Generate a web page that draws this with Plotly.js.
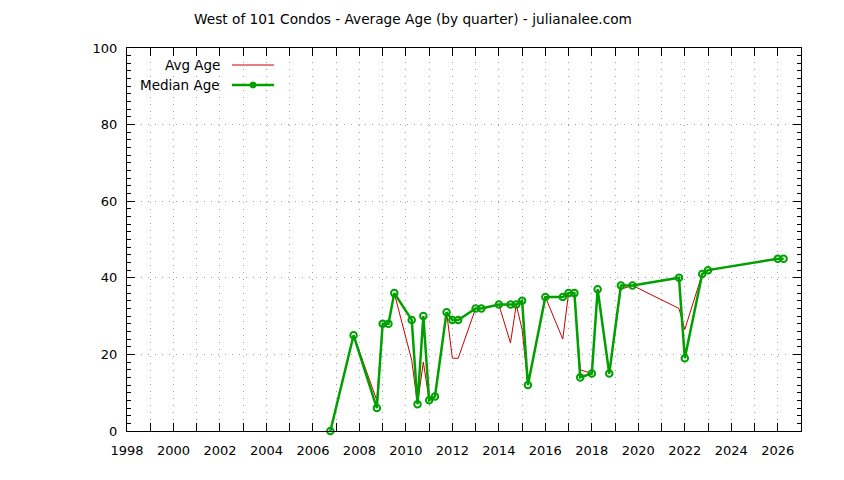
<!DOCTYPE html>
<html>
<head>
<meta charset="utf-8">
<script src="https://cdn.plot.ly/plotly-3.0.1.min.js"></script>
<style>
  html, body { margin: 0; padding: 0; background: #fff; }
  #plot { width: 844px; height: 480px; }
</style>
</head>
<body>
<div id="plot"></div>
<script>
// quarter start, as decimal year
const quarters = [2006.75, 2007.75, 2008.75, 2009.0, 2009.25, 2009.5, 2010.25, 2010.5, 2010.75,
    2011.0, 2011.25, 2011.75, 2012.0, 2012.25, 2013.0, 2013.25, 2014.0, 2014.5, 2014.75,
    2015.0, 2015.25, 2016.0, 2016.75, 2017.0, 2017.25, 2017.5, 2018.0, 2018.25, 2018.75,
    2019.25, 2019.75, 2021.75, 2022.0, 2022.75, 2023.0, 2026.0, 2026.25];

const avgAge = [0, 25, 8, 28, 28, 36, 18.5, 7, 18, 8, 9, 31, 19, 19, 32, 32, 33, 23, 33,
    26.5, 12, 35, 24, 36, 36, 16, 15, 37, 15, 37, 38, 32, 26.5, 41, 42, 45, 45];

const medianAge = [0, 25, 6, 28, 28, 36, 29, 7, 30, 8, 9, 31, 29, 29, 32, 32, 33, 33, 33,
    34, 12, 35, 35, 36, 36, 14, 15, 37, 15, 38, 38, 40, 19, 41, 42, 45, 45];

const yearTicks = [];
for (let yr = 1998; yr <= 2026; yr++) yearTicks.push(yr);
const yearLabels = yearTicks.map((yr) => (yr % 2 === 0 ? String(yr) : ''));

const FONT = 'DejaVu Sans, Verdana, sans-serif';
const RED = '#cc0000';
const GREEN = '#00a000';
const GRID = '#a0a0a0';

const avgTrace = {
    x: quarters,
    y: avgAge,
    mode: 'lines',
    type: 'scatter',
    name: 'Avg Age',
    line: { color: RED, width: 1 },
    cliponaxis: false
};

const medianTrace = {
    x: quarters,
    y: medianAge,
    mode: 'lines+markers',
    type: 'scatter',
    name: 'Median Age',
    line: { color: GREEN, width: 2.5 },
    marker: { symbol: 'circle-open', size: 6.5, color: GREEN, line: { width: 2, color: GREEN } },
    cliponaxis: false
};

// gnuplot style key: text on the left, sample on the right
const keyY1 = 1 - (65 - 48) / 383;
const keyY2 = 1 - (85 - 48) / 383;

const layout = {
    width: 844,
    height: 480,
    margin: { l: 127, r: 43, t: 48, b: 49 },
    paper_bgcolor: '#fff',
    plot_bgcolor: '#fff',
    showlegend: false,
    font: { family: FONT, size: 13, color: '#000' },
    title: {
        text: 'West of 101 Condos - Average Age (by quarter) - julianalee.com',
        font: { family: FONT, size: 13.7, color: '#000' },
        x: 413 / 844,
        xanchor: 'center',
        xref: 'container',
        y: 1 - 19 / 480,
        yanchor: 'middle',
        yref: 'container'
    },
    xaxis: {
        range: [1998, 2027],
        tickmode: 'array',
        tickvals: yearTicks,
        ticktext: yearLabels,
        ticks: 'inside',
        ticklen: 8,
        tickcolor: '#000',
        ticklabelstandoff: 7,
        showline: true,
        linecolor: '#000',
        linewidth: 1,
        mirror: 'allticks',
        showgrid: true,
        gridcolor: GRID,
        griddash: '1px,6px',
        gridwidth: 1,
        zeroline: false,
        tickfont: { family: FONT, size: 13 }
    },
    yaxis: {
        range: [0, 100],
        dtick: 20,
        ticks: 'inside',
        ticklen: 8,
        tickcolor: '#000',
        ticklabelstandoff: 6,
        showline: true,
        linecolor: '#000',
        linewidth: 1,
        mirror: 'allticks',
        showgrid: true,
        gridcolor: GRID,
        griddash: '1px,6px',
        gridwidth: 1,
        zeroline: false,
        minor: { dtick: 2, ticks: 'inside', ticklen: 4, tickcolor: '#000', showgrid: false },
        tickfont: { family: FONT, size: 13 }
    },
    annotations: [
        { text: 'Avg Age', xref: 'paper', yref: 'paper', x: (222 - 127) / 674, y: keyY1,
          xanchor: 'right', yanchor: 'middle', showarrow: false, font: { family: FONT, size: 13.5 } },
        { text: 'Median Age', xref: 'paper', yref: 'paper', x: (222 - 127) / 674, y: keyY2,
          xanchor: 'right', yanchor: 'middle', showarrow: false, font: { family: FONT, size: 13.5 } }
    ],
    shapes: [
        { type: 'line', xref: 'paper', yref: 'paper', x0: (232 - 127) / 674, x1: (274 - 127) / 674,
          y0: keyY1, y1: keyY1, line: { color: RED, width: 1 } },
        { type: 'line', xref: 'paper', yref: 'paper', x0: (232 - 127) / 674, x1: (274 - 127) / 674,
          y0: keyY2, y1: keyY2, line: { color: GREEN, width: 2.5 } },
        { type: 'circle', xref: 'paper', yref: 'paper', xsizemode: 'pixel', ysizemode: 'pixel',
          xanchor: (253 - 127) / 674, yanchor: keyY2, x0: -3, x1: 3, y0: -3, y1: 3,
          fillcolor: GREEN, line: { color: GREEN, width: 1 } }
    ]
};

Plotly.newPlot('plot', [avgTrace, medianTrace], layout, { staticPlot: true });
</script>
</body>
</html>
